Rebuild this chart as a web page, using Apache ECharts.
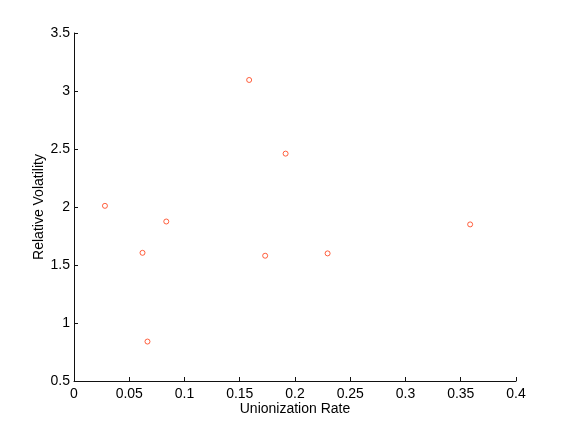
<!DOCTYPE html>
<html><head><meta charset="utf-8">
<script src="https://cdn.jsdelivr.net/npm/echarts@6/dist/echarts.min.js"></script>
<style>html,body{margin:0;padding:0;background:#fff}#c{width:570px;height:429px}</style>
</head><body><div id="c"></div>
<script>
const unionRate = [0.028, 0.062, 0.0835, 0.0665, 0.173, 0.1585, 0.1915, 0.2295, 0.3585];
const relVolatility = [2.01, 1.605, 1.875, 0.84, 1.58, 3.095, 2.46, 1.60, 1.85];
const xTitle = 'Unionization Rate';
const yTitle = 'Relative Volatility';

const points = unionRate.map((x, i) => [x, relVolatility[i]]);
const font = 'Liberation Sans, Arial, Helvetica, sans-serif';
const chart = echarts.init(document.getElementById('c'));
chart.setOption({
  animation: false,
  grid: {left: 74, right: 54, top: 33, bottom: 48, containLabel: false},
  xAxis: {
    type: 'value', min: 0, max: 0.4, interval: 0.05,
    name: xTitle, nameLocation: 'middle', nameGap: 21, nameMoveOverlap: false,
    nameTextStyle: {color: '#000', fontSize: 14, fontFamily: font},
    axisLine: {lineStyle: {color: '#111', width: 1}},
    axisTick: {inside: true, length: 4, lineStyle: {color: '#111'}},
    axisLabel: {color: '#000', fontSize: 14, fontFamily: font, margin: 6,
      formatter: v => String(+v.toFixed(2))},
    splitLine: {show: false}
  },
  yAxis: {
    type: 'value', min: 0.5, max: 3.5, interval: 0.5,
    name: yTitle, nameLocation: 'middle', nameGap: 28, nameMoveOverlap: false,
    nameTextStyle: {color: '#000', fontSize: 14, fontFamily: font},
    axisLine: {lineStyle: {color: '#111', width: 1}},
    axisTick: {inside: true, length: 4, lineStyle: {color: '#111'}},
    axisLabel: {color: '#000', fontSize: 14, fontFamily: font, margin: 4,
      formatter: v => String(+v.toFixed(1))},
    splitLine: {show: false}
  },
  series: [{
    type: 'scatter', data: points, symbol: 'circle', symbolSize: 5,
    itemStyle: {color: 'transparent', borderColor: '#ff3a10', borderWidth: 1}
  }]
});
</script></body></html>
